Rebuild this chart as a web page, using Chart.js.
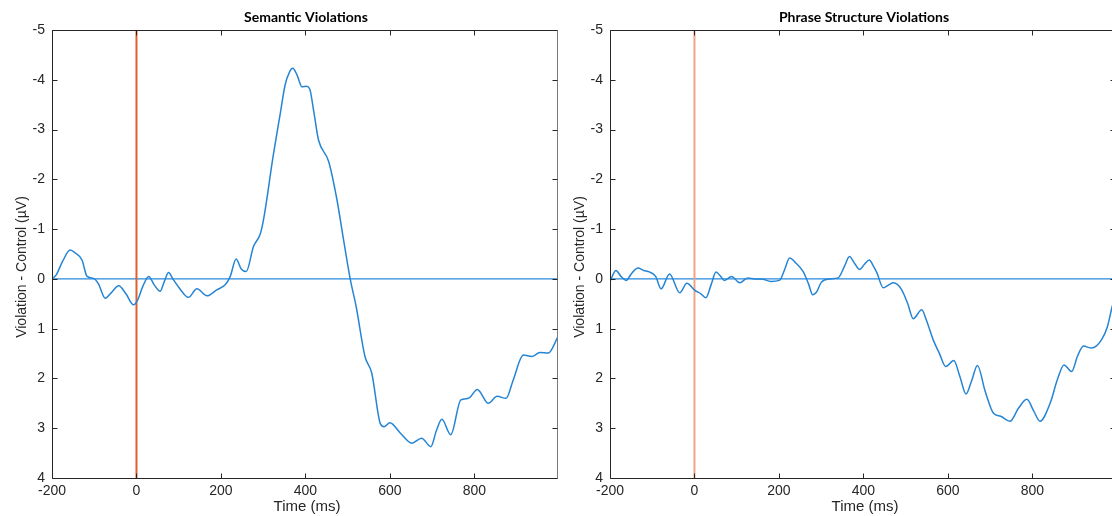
<!DOCTYPE html>
<html>
<head>
<meta charset="utf-8">
<script src="https://cdn.jsdelivr.net/npm/chart.js@4/dist/chart.umd.min.js"></script>
<style>
  html, body { margin: 0; padding: 0; background: #fff; }
  body { width: 1112px; height: 516px; overflow: hidden; position: relative; }
  canvas { position: absolute; top: 0; }
  #semantic { left: 0; }
  #phrase { left: 558px; }
</style>
</head>
<body>
<canvas id="semantic" width="560" height="516"></canvas>
<canvas id="phrase" width="560" height="516"></canvas>
<script>
// axis ticks
const xTicks = [-200, 0, 200, 400, 600, 800];
const yTicks = [-5, -4, -3, -2, -1, 0, 1, 2, 3, 4];

// semantic violations (ms, µV)
const semTimes = [
  -200, -190, -175, -157, -145, -129, -117, -102, -90, -74,
  -60, -42, -25, -7, 3, 15, 29, 42, 56, 66,
  76, 86, 96, 110, 123, 143, 167, 190, 210, 222,
  236, 248, 260, 277, 293, 301, 324, 340, 352, 362,
  370, 380, 392, 402, 410, 420, 431, 455, 474, 490,
  506, 520, 541, 557, 577, 586, 600, 625, 652, 675,
  697, 710, 723, 744, 768, 786, 807, 833, 854, 875,
  892, 916, 936, 955, 975, 998
];
const semValues = [
  0.0, -0.08, -0.35, -0.58, -0.52, -0.38, -0.05, -0.01, 0.1, 0.39,
  0.28, 0.14, 0.3, 0.52, 0.42, 0.15, -0.05, 0.12, 0.25, 0.05,
  -0.13, 0.0, 0.12, 0.28, 0.37, 0.2, 0.34, 0.22, 0.12, -0.05,
  -0.4, -0.2, -0.15, -0.65, -0.9, -1.2, -2.49, -3.3, -3.9, -4.15,
  -4.23, -4.1, -3.86, -3.87, -3.82, -3.35, -2.79, -2.36, -1.62, -0.8,
  0.0, 0.55, 1.56, 1.89, 2.9, 2.97, 2.89, 3.1, 3.3, 3.2,
  3.37, 3.05, 2.82, 3.13, 2.43, 2.4, 2.22, 2.5, 2.36, 2.4,
  2.03, 1.53, 1.56, 1.48, 1.49, 1.16
];

// phrase structure violations (ms, µV)
const phrTimes = [
  -200, -186, -174, -162, -148, -134, -120, -107, -92, -79,
  -59, -35, -18, 1, 15, 27, 40, 51, 62, 71,
  88, 107, 126, 142, 158, 181, 201, 214, 225, 240,
  257, 270, 280, 290, 300, 320, 340, 355, 367, 380,
  391, 403, 414, 424, 432, 447, 460, 471, 490, 505,
  518, 538, 550, 565, 580, 595, 614, 628, 643, 656,
  670, 688, 708, 725, 747, 767, 787, 803, 818, 842,
  860, 875, 893, 907, 921, 940, 964, 978, 988, 998
];
const phrValues = [
  0.05, -0.17, -0.05, 0.03, -0.12, -0.22, -0.17, -0.14, -0.05, 0.2,
  -0.1, 0.28, 0.09, 0.23, 0.3, 0.38, 0.1, -0.14, -0.05, 0.03,
  -0.05, 0.08, -0.02, 0.0, 0.0, 0.05, 0.03, -0.2, -0.42, -0.32,
  -0.15, 0.1, 0.32, 0.25, 0.07, 0.0, -0.02, -0.25, -0.45, -0.3,
  -0.19, -0.3, -0.38, -0.25, -0.12, 0.18, 0.12, 0.08, 0.21, 0.5,
  0.8, 0.62, 0.85, 1.22, 1.5, 1.76, 1.64, 1.95, 2.31, 2.05,
  1.74, 2.25, 2.7, 2.76, 2.86, 2.6, 2.42, 2.65, 2.86, 2.5,
  2.0, 1.73, 1.86, 1.55, 1.35, 1.39, 1.22, 0.95, 0.59, 0.3
];

const axisColor = '#262626';

// MATLAB-ish box, inward ticks, zero line, onset line and titles
const framePlugin = {
  id: 'frame',
  beforeDatasetsDraw(chart, args, opts) {
    const { ctx, chartArea: a, scales: { x, y } } = chart;
    ctx.save();
    const y0 = y.getPixelForValue(0);
    ctx.strokeStyle = '#2a88dc';
    ctx.lineWidth = 1.3;
    ctx.beginPath();
    ctx.moveTo(a.left, y0);
    ctx.lineTo(a.right, y0);
    ctx.stroke();

    const x0 = x.getPixelForValue(0);
    ctx.strokeStyle = opts.onsetColor;
    ctx.lineWidth = 2;
    ctx.beginPath();
    ctx.moveTo(x0, a.top);
    ctx.lineTo(x0, a.bottom);
    ctx.stroke();
    ctx.restore();
  },
  afterDraw(chart, args, opts) {
    const { ctx, chartArea: a, scales: { x, y } } = chart;
    const L = Math.round(a.left) + 0.5, R = Math.round(a.right) - 0.5;
    const T = Math.round(a.top) + 0.5, B = Math.round(a.bottom) + 0.5;
    ctx.save();
    ctx.lineWidth = 1;
    ctx.strokeStyle = axisColor;
    ctx.beginPath();
    ctx.moveTo(L, T); ctx.lineTo(L, B); ctx.lineTo(R, B);
    ctx.moveTo(L, T); ctx.lineTo(R, T);
    ctx.stroke();
    ctx.strokeStyle = '#7a7a7a';
    ctx.beginPath();
    ctx.moveTo(R, T); ctx.lineTo(R, B);
    ctx.stroke();

    ctx.strokeStyle = axisColor;
    ctx.beginPath();
    xTicks.forEach(v => {
      const px = Math.round(x.getPixelForValue(v)) + 0.5;
      ctx.moveTo(px, B); ctx.lineTo(px, B - 5);
      ctx.moveTo(px, T); ctx.lineTo(px, T + 5);
    });
    yTicks.forEach(v => {
      const py = Math.round(y.getPixelForValue(v)) + 0.5;
      ctx.moveTo(L, py); ctx.lineTo(L + 5, py);
      ctx.moveTo(R, py); ctx.lineTo(R - 5, py);
    });
    ctx.stroke();

    // title
    ctx.fillStyle = '#000';
    ctx.font = 'bold 14px Lato, "Open Sans", sans-serif';
    ctx.textAlign = 'center';
    ctx.textBaseline = 'middle';
    ctx.fillText(opts.title, (a.left + a.right) / 2 + 1, 17);

    // axis titles
    ctx.fillStyle = axisColor;
    ctx.font = '15px "Liberation Sans", Arial, sans-serif';
    ctx.fillText('Time (ms)', (a.left + a.right) / 2 + 2, 507);

    ctx.font = '14px "Liberation Sans", Arial, sans-serif';
    ctx.translate(22, 267);
    ctx.rotate(-Math.PI / 2);
    ctx.fillText('Violation - Control (\u00b5V)', 0, 0);
    ctx.restore();
  }
};

function makeChart(id, title, times, values, onsetColor) {
  const points = times.map((t, i) => ({ x: t, y: values[i] }));
  return new Chart(document.getElementById(id), {
    type: 'line',
    data: {
      datasets: [{
        data: points,
        borderColor: '#2585d4',
        borderWidth: 1.5,
        pointRadius: 0,
        cubicInterpolationMode: 'monotone',
        fill: false
      }]
    },
    options: {
      responsive: false,
      animation: false,
      devicePixelRatio: 1,
      layout: { padding: { top: 30, right: 2, left: 0, bottom: 0 } },
      plugins: {
        legend: { display: false },
        tooltip: { enabled: false },
        frame: { title, onsetColor }
      },
      scales: {
        x: {
          type: 'linear',
          min: -200,
          max: 998,
          afterBuildTicks: s => { s.ticks = xTicks.map(v => ({ value: v })); },
          afterFit: s => { s.height = 38; },
          grid: { display: false, drawTicks: false },
          border: { display: false },
          ticks: {
            padding: 5,
            maxRotation: 0,
            autoSkip: false,
            color: axisColor,
            font: { family: '"Liberation Sans", Arial, sans-serif', size: 14 },
            callback: v => String(v)
          }
        },
        y: {
          type: 'linear',
          reverse: true,
          min: -5,
          max: 4,
          afterBuildTicks: s => { s.ticks = yTicks.map(v => ({ value: v })); },
          afterFit: s => { s.width = 52; },
          grid: { display: false, drawTicks: false },
          border: { display: false },
          ticks: {
            padding: 7,
            autoSkip: false,
            color: axisColor,
            font: { family: '"Liberation Sans", Arial, sans-serif', size: 14 },
            callback: v => String(v)
          }
        }
      }
    },
    plugins: [framePlugin]
  });
}

makeChart('semantic', 'Semantic Violations', semTimes, semValues, '#e0602c');
makeChart('phrase', 'Phrase Structure Violations', phrTimes, phrValues, '#f2a384');
</script>
</body>
</html>
